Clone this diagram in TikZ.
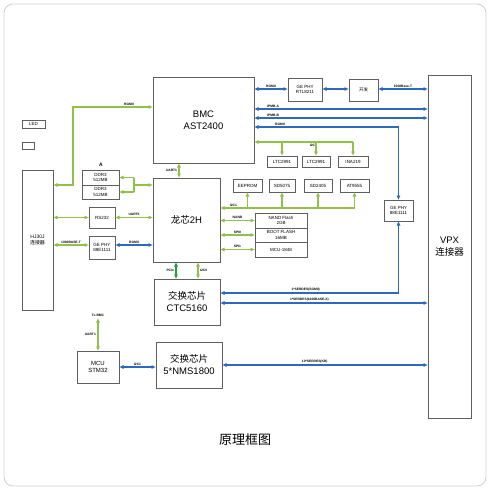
\documentclass[tikz,border=0pt]{standalone}
\usepackage{fontspec}
\setmainfont{Liberation Sans}
\newfontfamily\cjk{Noto Sans CJK SC}
\usetikzlibrary{arrows.meta}
\definecolor{lblue}{RGB}{45,105,190}
\definecolor{lgreen}{RGB}{145,192,75}
\definecolor{pgreen}{RGB}{25,165,60}
\definecolor{bgray}{RGB}{95,95,95}
\tikzset{
  box/.style={draw=bgray, line width=0.8pt, inner sep=0pt, outer sep=0pt, align=center, font=\fontsize{4.5}{5.3}\selectfont},
  bigtxt/.style={font=\fontsize{9.5}{12}\selectfont},
  midtxt/.style={font=\fontsize{6}{7.5}\selectfont},
  blu/.style={draw=lblue, line width=1.1pt},
  grn/.style={draw=lgreen, line width=1.1pt},
  pgr/.style={draw=pgreen, line width=1.1pt},
  arr/.style={-{Latex[length=4.5pt,width=4.2pt]}},
  darr/.style={{Latex[length=4.5pt,width=4.2pt]}-{Latex[length=4.5pt,width=4.2pt]}},
  lab/.style={font=\fontsize{3.3}{3.8}\selectfont\bfseries, inner sep=0.6pt, text=black}
}
\newcommand\mybox[7][]{\node[box,#1,minimum width={(#5-#3)*1pt},minimum height={(#6-#4)*1pt}] (#2) at ({(#3+#5)/2},{(#4+#6)/2}) {#7};}
\begin{document}
\begin{tikzpicture}[x=1pt,y=-1pt]
\useasboundingbox (0,0) rectangle (490,490);
\draw[draw=gray!35, line width=0.9pt, rounded corners=9pt] (4,4) rectangle (486,486);

% boxes
\mybox[bigtxt]{bmc}{153}{77}{254}{163}{BMC\\AST2400}
\mybox{gephyA}{288}{78}{322}{101}{GE PHY\\RTL8211}
\mybox{kaifa}{349}{79}{378}{101}{\cjk 开发}
\mybox[bigtxt]{vpx}{428}{75}{471}{418}{VPX\\{\cjk 连接器}}
\mybox[font=\fontsize{5}{6.5}\selectfont]{hj}{22}{170}{53}{310}{HJ30J\\{\cjk 连接器}}
\mybox{led}{22}{120}{45}{128}{LED}
\mybox{blank}{22}{142}{34}{149}{}
\mybox{ddrA}{82}{170}{119}{185}{DDR3\\512MB}
\mybox{ddrB}{82}{185}{119}{199}{DDR3\\512MB}
\node[font=\fontsize{5}{6}\selectfont\bfseries, inner sep=0pt] (lblA) at (101,165) {A};
\mybox{rs232}{89}{207}{115}{228}{RS232}
\mybox{gephyB}{89}{236}{115}{259}{GE PHY\\88E1111}
\mybox[bigtxt]{ls}{153}{178}{220}{262}{{\cjk 龙芯}2H}
\mybox{ltcA}{267}{156}{297}{167}{LTC2991}
\mybox{ltcB}{302}{156}{330}{167}{LTC2991}
\mybox{ina}{338}{156}{368}{167}{INA219}
\mybox{eeprom}{233}{179}{262}{192}{EEPROM}
\mybox{sdA}{269}{179}{295}{192}{SD5075}
\mybox{sdB}{304}{179}{332}{192}{SD2405}
\mybox{at}{340}{179}{369}{192}{AT9555}
\mybox{nand}{255}{213}{307}{228}{NAND Flash\\2GB}
\mybox{boot}{255}{228}{307}{242}{BOOT FLASH\\16MB}
\mybox{mcux}{255}{242}{307}{257}{MCU-1848}
\mybox{gephyC}{384}{200}{413}{221}{GE PHY\\88E1111}
\mybox[bigtxt]{ctc}{154}{279}{220}{325}{{\cjk 交换芯片}\\CTC5160}
\mybox[midtxt]{mcu}{77}{351}{119}{383}{MCU\\STM32}
\mybox[bigtxt]{nms}{156}{342}{222}{388}{{\cjk 交换芯片}\\5*NMS1800}
\node[font=\fontsize{13}{15}\selectfont\cjk, inner sep=0pt] (title) at (245,440) {原理框图};

% blue connectors
\draw[blu,darr] (bmc.east|-0,89) -- node[lab,above=0.8pt]{RGMII} (gephyA.west|-0,89);
\draw[blu,darr] (gephyA.east|-0,89) -- (kaifa.west|-0,89);
\draw[blu,darr] (kaifa.east|-0,89) -- node[lab,above=0.8pt]{1000Base-T} (vpx.west|-0,89);
\draw[blu,darr] (bmc.east|-0,109) -- node[lab,above=0.8pt,pos=0.11]{IPMB-A} (vpx.west|-0,109);
\draw[blu,darr] (bmc.east|-0,118) -- node[lab,above=0.8pt,pos=0.11]{IPMB-B} (vpx.west|-0,118);
\draw[blu,darr] (bmc.east|-0,127) -| node[lab,above=0.8pt,pos=0.09]{RGMII} (gephyC.north);
\draw[blu,darr] (ctc.east|-0,293) -| node[lab,above=0.8pt,pos=0.24]{1*SERDES(SGMII)} (gephyC.south);
\draw[blu,darr] (ctc.east|-0,303) -- node[lab,above=0.8pt,pos=0.43]{1*SERDES(1000BASE-X)} (vpx.west|-0,303);
\draw[blu,darr] (nms.east|-0,365) -- node[lab,above=0.8pt,pos=0.45]{10*SERDES(KR)} (vpx.west|-0,365);
\draw[blu,darr] (mcu.east|-0,367) -- node[lab,above=0.8pt]{I2C1} (nms.west|-0,367);
\draw[blu,darr] (gephyB.east|-0,245) -- node[lab,above=0.8pt]{RGMII} (ls.west|-0,245);

% green connectors, left side
\coordinate (cornerL) at (73,107);
\draw[grn,darr] (hj.east|-0,185) -| (cornerL) -- node[lab,above=0.8pt,pos=0.7]{RGMII} (bmc.west|-cornerL);
\coordinate (ddrj) at (134,185);
\draw[grn] (ddrj|-ddrA) -- (ddrj|-ddrB);
\draw[grn,arr] (ddrj|-ddrA) -- (ddrA);
\draw[grn,arr] (ddrj|-ddrB) -- (ddrB);
\draw[grn,arr] (ddrj) -- (ls.west|-ddrj);
\draw[grn,darr] (hj.east|-rs232) -- (rs232);
\draw[grn,darr] (rs232) -- node[lab,above=0.8pt]{UART0} (ls.west|-rs232);
\draw[grn,darr] (hj.east|-0,245) -- node[lab,above=0.8pt]{1000BASE-T} (gephyB.west|-0,245);
\draw[grn,darr] (bmc.south-|179,0) -- node[lab,left=0.8pt]{UART1} (ls.north-|179,0);

% I2C buses
\draw[grn,arr] (ina.north|-0,142) -- node[lab,below=1pt,pos=0.4]{I2C3} (bmc.east|-0,142);
\draw[grn,arr] (ltcA.north|-0,142) -- (ltcA.north);
\draw[grn,arr] (ltcB.north|-0,142) -- (ltcB.north);
\draw[grn,arr] (ina.north|-0,142) -- (ina.north);
\draw[grn,arr] (at.south|-0,208) -- node[lab,above=0.8pt,pos=0.9]{I2C1} (ls.east|-0,208);
\draw[grn,arr] (eeprom.south|-0,208) -- (eeprom.south);
\draw[grn,arr] (sdA.south|-0,208) -- (sdA.south);
\draw[grn,arr] (sdB.south|-0,208) -- (sdB.south);
\draw[grn,arr] (at.south|-0,208) -- (at.south);
\draw[grn,darr] (ls.east|-nand) -- node[lab,above=0.8pt]{NAND} (nand);
\draw[grn,darr] (ls.east|-boot) -- node[lab,above=0.8pt]{SPI0} (boot);
\draw[grn,darr] (ls.east|-mcux) -- node[lab,above=0.8pt]{SPI1} (mcux);

% LS to CTC
\draw[pgr,darr] (ls.south-|176,0) -- node[lab,left=1pt]{PCIe} (ctc.north-|176,0);
\draw[grn,darr] (ls.south-|198,0) -- node[lab,right=1pt]{I2C0} (ctc.north-|198,0);

% MCU to BMC
\coordinate (tobmc) at (98,318);
\node[lab,above=0.5pt] (tobmclbl) at (tobmc) {To BMC};
\draw[grn,darr] (tobmc) -- node[lab,left=1pt]{UART1} (mcu.north-|tobmc);
\end{tikzpicture}
\end{document}
